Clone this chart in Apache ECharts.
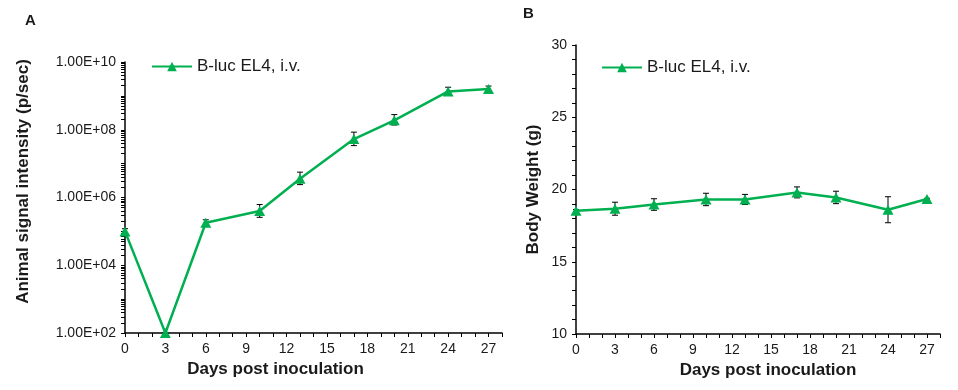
<!DOCTYPE html>
<html>
<head>
<meta charset="utf-8">
<script src="https://cdn.jsdelivr.net/npm/echarts@6/dist/echarts.min.js"></script>
<style>
html,body{margin:0;padding:0;background:#fff;}
#c{width:958px;height:390px;}
</style>
</head>
<body>
<div id="c"></div>
<script>
// ---- data ----
var seriesName = 'B-luc EL4, i.v.';
var days = [0, 3, 6, 10, 13, 17, 20, 24, 27];
// Panel A: animal signal intensity (p/sec)
var signalMean = [1.0e5, 1.0e2, 1.8e5, 4.0e5, 3.6e6, 5.3e7, 1.9e8, 1.35e9, 1.6e9];
var signalHigh = [1.2e5, 1.0e2, 2.2e5, 6.2e5, 5.6e6, 8.5e7, 2.8e8, 1.8e9, 1.95e9];
var signalLow  = [8.5e4, 1.0e2, 1.5e5, 2.6e5, 2.4e6, 3.4e7, 1.38e8, 1.07e9, 1.3e9];
var signalTickValues = [1e2, 1e4, 1e6, 1e8, 1e10];
var signalTickLabels = ['1.00E+02', '1.00E+04', '1.00E+06', '1.00E+08', '1.00E+10'];
// Panel B: body weight (g)
var weightMean = [18.53, 18.67, 18.96, 19.31, 19.31, 19.80, 19.45, 18.60, 19.34];
var weightErr  = [0.08, 0.45, 0.40, 0.43, 0.35, 0.38, 0.43, 0.90, 0.05];
var dayTickLabels = [0, 3, 6, 9, 12, 15, 18, 21, 24, 27];

// ---- helpers ----
var GREEN = '#00B050';
var TXT = '#1a1a1a';
var FONT = 'Arial, "Liberation Sans", sans-serif';

// log minor tick positions across the axis range (axis decoration)
var logMinorTicks = [];
for (var e = 2; e <= 10; e++) {
  for (var k = 1; k <= 9; k++) {
    var v = k * Math.pow(10, e);
    if (v <= 1e10) logMinorTicks.push(v);
  }
}

function errData(lo, hi) {
  return days.map(function (d, i) { return [d, lo[i], hi[i]]; });
}
var weightErrData = days.map(function (d, i) {
  return [d, weightMean[i] - weightErr[i], weightMean[i] + weightErr[i]];
});

function errorBarRender(params, api) {
  var x = api.value(0);
  var lo = api.coord([x, api.value(1)]);
  var hi = api.coord([x, api.value(2)]);
  var cap = 3;
  var st = { stroke: '#000', lineWidth: 1 };
  return {
    type: 'group',
    children: [
      { type: 'line', shape: { x1: lo[0], y1: lo[1], x2: hi[0], y2: hi[1] }, style: st },
      { type: 'line', shape: { x1: hi[0] - cap, y1: hi[1], x2: hi[0] + cap, y2: hi[1] }, style: st },
      { type: 'line', shape: { x1: lo[0] - cap, y1: lo[1], x2: lo[0] + cap, y2: lo[1] }, style: st }
    ]
  };
}

function xAxisCfg(gridIndex, pad) {
  return {
    type: 'value', gridIndex: gridIndex, min: 0, max: 28, interval: 1,
    name: 'Days post inoculation', nameLocation: 'middle', nameGap: 28,
    nameTextStyle: { fontFamily: FONT, fontWeight: 'bold', fontSize: 17, color: TXT, padding: pad },
    axisLine: { show: true, onZero: false, lineStyle: { color: '#000', width: 1.5 } },
    axisTick: { show: true, length: 4, inside: false, lineStyle: { color: '#000', width: 1 } },
    axisLabel: {
      margin: 9, fontFamily: FONT, fontSize: 14, color: TXT,
      formatter: function (v) { return dayTickLabels.indexOf(v) >= 0 ? String(v) : ''; }
    },
    splitLine: { show: false }
  };
}

var option = {
  animation: false,
  backgroundColor: '#fff',
  title: [
    { text: 'A', left: 20, top: 8, textStyle: { fontFamily: FONT, fontWeight: 'bold', fontSize: 15, color: TXT } },
    { text: 'B', left: 518, top: 1, textStyle: { fontFamily: FONT, fontWeight: 'bold', fontSize: 15, color: TXT } }
  ],
  legend: [
    {
      data: [seriesName], left: 146, top: 53, itemWidth: 40, itemHeight: 12, seriesIndex: 1,
      textStyle: { fontFamily: FONT, fontSize: 17, color: TXT }
    },
    {
      data: [seriesName], left: 596, top: 54, itemWidth: 40, itemHeight: 12,
      textStyle: { fontFamily: FONT, fontSize: 17, color: TXT }
    }
  ],
  grid: [
    { left: 125, top: 62, width: 377, height: 271 },
    { left: 576, top: 45, width: 364, height: 289 }
  ],
  xAxis: [xAxisCfg(0, [0, 76, 0, 0]), xAxisCfg(1, [0, 0, 0, 20])],
  yAxis: [
    {
      type: 'log', gridIndex: 0, logBase: 10, min: 1e2, max: 1e10,
      name: 'Animal signal intensity (p/sec)', nameLocation: 'middle', nameGap: 93,
      nameTextStyle: { fontFamily: FONT, fontWeight: 'bold', fontSize: 17, color: TXT, padding: [0, 0, 0, 32] },
      axisLine: { show: true, lineStyle: { color: '#000', width: 1.5 } },
      axisTick: { show: true, length: 4, customValues: logMinorTicks, lineStyle: { color: '#000', width: 1 } },
      axisLabel: {
        margin: 9, fontFamily: FONT, fontSize: 14, color: TXT, customValues: signalTickValues,
        formatter: function (v) {
          var i = signalTickValues.indexOf(v);
          if (i < 0) { i = signalTickValues.findIndex(function (t) { return Math.abs(Math.log10(t) - Math.log10(v)) < 1e-6; }); }
          return i >= 0 ? signalTickLabels[i] : '';
        }
      },
      splitLine: { show: false }
    },
    {
      type: 'value', gridIndex: 1, min: 10, max: 30, interval: 5,
      name: 'Body Weight (g)', nameLocation: 'middle', nameGap: 34,
      nameTextStyle: { fontFamily: FONT, fontWeight: 'bold', fontSize: 17, color: TXT },
      axisLine: { show: true, lineStyle: { color: '#000', width: 1.5 } },
      axisTick: { show: true, length: 4, lineStyle: { color: '#000', width: 1 } },
      minorTick: { show: true, splitNumber: 5, length: 4, lineStyle: { color: '#000', width: 1 } },
      axisLabel: { margin: 9, fontFamily: FONT, fontSize: 14, color: TXT },
      splitLine: { show: false }
    }
  ],
  series: [
    {
      type: 'custom', name: 'errA', xAxisIndex: 0, yAxisIndex: 0, z: 1,
      renderItem: errorBarRender, data: errData(signalLow, signalHigh), encode: { x: 0, y: [1, 2] },
      silent: true
    },
    {
      type: 'line', name: seriesName, xAxisIndex: 0, yAxisIndex: 0, z: 3,
      data: days.map(function (d, i) { return [d, signalMean[i]]; }),
      symbol: 'triangle', symbolSize: [11, 10], showAllSymbol: true,
      lineStyle: { color: GREEN, width: 2.5 }, itemStyle: { color: GREEN }
    },
    {
      type: 'custom', name: 'errB', xAxisIndex: 1, yAxisIndex: 1, z: 1,
      renderItem: errorBarRender, data: weightErrData, encode: { x: 0, y: [1, 2] },
      silent: true
    },
    {
      type: 'line', name: seriesName, xAxisIndex: 1, yAxisIndex: 1, z: 3,
      data: days.map(function (d, i) { return [d, weightMean[i]]; }),
      symbol: 'triangle', symbolSize: [11, 10], showAllSymbol: true,
      lineStyle: { color: GREEN, width: 2.5 }, itemStyle: { color: GREEN }
    }
  ]
};

var chart = echarts.init(document.getElementById('c'), null, { renderer: 'canvas' });
chart.setOption(option);
</script>
</body>
</html>
